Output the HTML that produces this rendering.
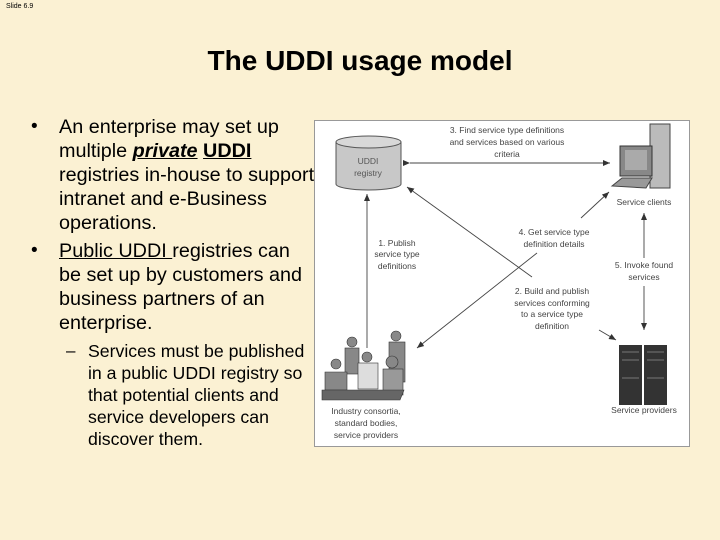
<!DOCTYPE html>
<html><head><meta charset="utf-8"><style>
body{margin:0;}
#s{position:relative;width:720px;height:540px;background:#FBF1D3;overflow:hidden;font-family:"Liberation Sans",Arial,sans-serif;color:#000;}
.t{position:absolute;white-space:nowrap;}
</style></head><body><div id="s">
<div class="t" style="left:6px;top:3px;font-size:7px;">Slide 6.9</div>
<div class="t" style="left:0;width:720px;text-align:center;top:45px;font-size:28px;font-weight:bold;">The UDDI usage model</div>
<div class="t" style="left:31px;top:115px;font-size:19px;line-height:24px;">•</div>
<div class="t" style="left:59px;top:115px;font-size:19.8px;line-height:24px;">An enterprise may set up<br>multiple <b><i><u>private</u></i> <u>UDDI</u></b><br>registries in-house to support<br>intranet and e-Business<br>operations.</div>
<div class="t" style="left:31px;top:239px;font-size:19px;line-height:24px;">•</div>
<div class="t" style="left:59px;top:239px;font-size:19.8px;line-height:24px;"><u>Public UDDI </u>registries can<br>be set up by customers and<br>business partners of an<br>enterprise.</div>
<div class="t" style="left:66px;top:340px;font-size:17px;line-height:22px;">–</div>
<div class="t" style="left:88px;top:340px;font-size:17.7px;line-height:22px;">Services must be published<br>in a public UDDI registry so<br>that potential clients and<br>service developers can<br>discover them.</div>
<svg style="position:absolute;left:0;top:0" width="720" height="540" font-family="Liberation Sans,Arial,sans-serif" font-size="8.5" fill="#444">
<defs><marker id="a" markerWidth="8" markerHeight="8" refX="7" refY="4" orient="auto" markerUnits="userSpaceOnUse"><path d="M0,1 L7,4 L0,7z" fill="#333"/></marker></defs>
<rect x="314.5" y="120.5" width="375" height="326" fill="#fff" stroke="#999"/>
<path d="M336,142 v42 a32.5,6 0 0 0 65,0 v-42" fill="#c8c8c8" stroke="#555"/>
<ellipse cx="368.5" cy="142" rx="32.5" ry="6" fill="#d8d8d8" stroke="#555"/>
<text x="368" y="164" text-anchor="middle" fill="#555">UDDI</text>
<text x="368" y="176" text-anchor="middle" fill="#555">registry</text>
<rect x="650" y="124" width="20" height="64" fill="#bbb" stroke="#444"/>
<rect x="620" y="146" width="32" height="30" fill="#888" stroke="#333"/>
<rect x="625" y="150" width="22" height="20" fill="#aaa"/>
<path d="M612,186 l10,-8 h30 l-6,10z" fill="#999" stroke="#444"/>
<g fill="#888" stroke="#333" stroke-width="0.6">
<circle cx="352" cy="342" r="5"/><rect x="345" y="348" width="14" height="26"/>
<circle cx="396" cy="336" r="5"/><rect x="389" y="342" width="16" height="40"/>
<circle cx="336" cy="364" r="5"/><path d="M325,372 h22 v18 h-22z"/>
<circle cx="367" cy="357" r="5"/><rect x="358" y="363" width="20" height="26" fill="#ddd"/>
<circle cx="392" cy="362" r="6"/><rect x="383" y="369" width="20" height="26" fill="#999"/>
<path d="M322,390 h82 l-4,10 h-78z" fill="#666"/>
</g>
<rect x="619" y="345" width="23" height="60" fill="#333"/>
<rect x="644" y="345" width="23" height="60" fill="#333"/>
<g stroke="#777"><line x1="622" y1="352" x2="639" y2="352"/><line x1="622" y1="360" x2="639" y2="360"/><line x1="622" y1="378" x2="639" y2="378"/><line x1="647" y1="352" x2="664" y2="352"/><line x1="647" y1="360" x2="664" y2="360"/><line x1="647" y1="378" x2="664" y2="378"/></g>
<g stroke="#444" stroke-width="0.9" fill="none">
<line x1="410" y1="163" x2="610" y2="163" marker-end="url(#a)" marker-start="url(#a)"/>
<line x1="367" y1="348" x2="367" y2="194" marker-end="url(#a)"/>
<line x1="532" y1="277" x2="407" y2="187" marker-end="url(#a)"/>
<line x1="599" y1="330" x2="616" y2="340" marker-end="url(#a)"/>
<line x1="581" y1="218" x2="609" y2="192" marker-end="url(#a)"/>
<line x1="537" y1="253" x2="417" y2="348" marker-end="url(#a)"/>
<line x1="644" y1="258" x2="644" y2="213" marker-end="url(#a)"/>
<line x1="644" y1="286" x2="644" y2="330" marker-end="url(#a)"/>
</g>
<g text-anchor="middle">
<text x="507" y="133">3. Find service type definitions</text>
<text x="507" y="145">and services based on various</text>
<text x="507" y="157">criteria</text>
<text x="644" y="205">Service clients</text>
<text x="397" y="246">1. Publish</text>
<text x="397" y="257">service type</text>
<text x="397" y="269">definitions</text>
<text x="554" y="235">4. Get service type</text>
<text x="554" y="247">definition details</text>
<text x="644" y="268">5. Invoke found</text>
<text x="644" y="280">services</text>
<text x="552" y="294">2. Build and publish</text>
<text x="552" y="306">services conforming</text>
<text x="552" y="317">to a service type</text>
<text x="552" y="329">definition</text>
<text x="366" y="414">Industry consortia,</text>
<text x="366" y="426">standard bodies,</text>
<text x="366" y="438">service providers</text>
<text x="644" y="413">Service providers</text>
</g>
</svg>
</div></body></html>
